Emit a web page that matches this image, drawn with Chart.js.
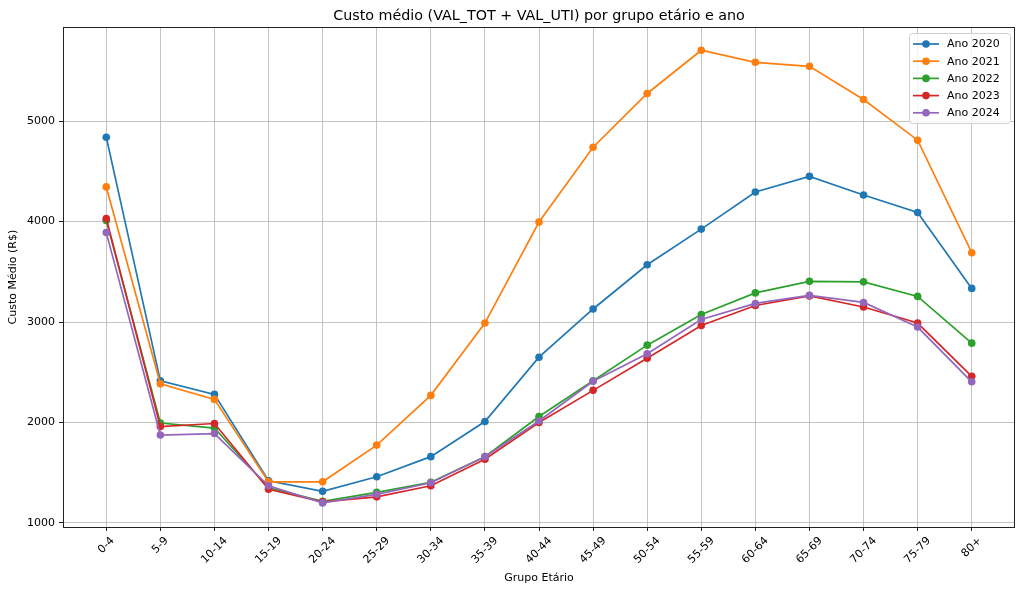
<!DOCTYPE html>
<html>
<head>
<meta charset="utf-8">
<script src="https://cdn.jsdelivr.net/npm/chart.js@4"></script>
<style>
  html, body { margin: 0; padding: 0; background: #fff; }
  #wrap { width: 1024px; height: 593px; position: relative; }
</style>
</head>
<body>
<div id="wrap"><canvas id="myLineChart"></canvas></div>
<script>
// categories and values
const faixas = ['0-4', '5-9', '10-14', '15-19', '20-24', '25-29', '30-34', '35-39', '40-44',
	'45-49', '50-54', '55-59', '60-64', '65-69', '70-74', '75-79', '80+'];

const ano2020 = [4840, 2415, 2280, 1420, 1315, 1460, 1660, 2010, 2650, 3130, 3570, 3925, 4295, 4450, 4265, 4090, 3335];
const ano2021 = [4345, 2385, 2230, 1410, 1410, 1775, 2270, 2990, 3995, 4740, 5275, 5705, 5585, 5545, 5215, 4810, 3690];
const ano2022 = [4010, 1995, 1945, 1350, 1215, 1305, 1405, 1660, 2060, 2415, 2770, 3075, 3290, 3405, 3400, 3255, 2790];
const ano2023 = [4030, 1960, 1990, 1335, 1210, 1260, 1370, 1635, 2000, 2320, 2640, 2965, 3165, 3260, 3150, 2990, 2460];
const ano2024 = [3890, 1875, 1890, 1370, 1200, 1285, 1400, 1660, 2015, 2410, 2685, 3025, 3185, 3265, 3195, 2950, 2405];

const yTicks = [1000, 2000, 3000, 4000, 5000];

const FONT = 'DejaVu Sans';

//turn a value list into points on the linear x axis
function toPoints(vals) {
	return vals.map((v, i) => ({ x: i, y: v }));
}

function serie(label, vals, color, order) {
	return {
		label: label,
		data: toPoints(vals),
		borderColor: color,
		backgroundColor: color,
		pointBackgroundColor: color,
		pointBorderWidth: 0,
		pointRadius: 3.8,
		borderWidth: 1.7,
		tension: 0,
		fill: false,
		order: order
	};
}

//legend drawn inside the plot, top right, matplotlib style
const innerLegend = {
	id: 'innerLegend',
	afterDraw(chart) {
		const ctx = chart.ctx;
		const sets = chart.data.datasets;
		const x0 = 909, y0 = 33, w = 101, h = 90;
		ctx.save();
		ctx.fillStyle = 'rgba(255,255,255,0.8)';
		ctx.strokeStyle = '#d0d0d0';
		ctx.lineWidth = 1;
		ctx.beginPath();
		ctx.roundRect(x0 + 0.5, y0 + 0.5, w, h, 3);
		ctx.fill();
		ctx.stroke();
		ctx.font = '11px "' + FONT + '"';
		ctx.textBaseline = 'middle';
		ctx.textAlign = 'left';
		sets.forEach((ds, i) => {
			const y = 44 + i * 17.2;
			ctx.strokeStyle = ds.borderColor;
			ctx.lineWidth = 1.7;
			ctx.beginPath();
			ctx.moveTo(913, y);
			ctx.lineTo(939, y);
			ctx.stroke();
			ctx.fillStyle = ds.borderColor;
			ctx.beginPath();
			ctx.arc(926, y, 3.8, 0, Math.PI * 2);
			ctx.fill();
			ctx.fillStyle = '#000';
			ctx.fillText(ds.label, 947, y + 0.5);
		});
		ctx.restore();
	}
};

//frame around the plot + x tick labels rotated 45 and centred under the tick
const frameAndLabels = {
	id: 'frameAndLabels',
	afterDraw(chart) {
		const ctx = chart.ctx;
		const a = chart.chartArea;
		const xs = chart.scales.x;
		ctx.save();
		ctx.strokeStyle = '#222';
		ctx.lineWidth = 1;
		ctx.strokeRect(Math.round(a.left) + 0.5, Math.round(a.top) + 0.5,
			Math.round(a.right - a.left) - 1, Math.round(a.bottom - a.top));
		ctx.font = '11px "' + FONT + '"';
		ctx.fillStyle = '#000';
		ctx.textAlign = 'center';
		ctx.textBaseline = 'middle';
		faixas.forEach((lab, i) => {
			const x = xs.getPixelForValue(i);
			const tw = ctx.measureText(lab).width;
			const side = (tw + 13) * Math.SQRT1_2;
			const cy = a.bottom + 7.5 + side / 2;
			ctx.save();
			ctx.translate(x, cy);
			ctx.rotate(-Math.PI / 4);
			ctx.fillText(lab, 0, 0);
			ctx.restore();
		});
		ctx.restore();
	}
};

const ctx = document.getElementById('myLineChart').getContext('2d');

new Chart(ctx, {
	type: 'line',
	data: {
		datasets: [
			serie('Ano 2020', ano2020, '#1f77b4', 4),
			serie('Ano 2021', ano2021, '#ff7f0e', 3),
			serie('Ano 2022', ano2022, '#2ca02c', 2),
			serie('Ano 2023', ano2023, '#d62728', 1),
			serie('Ano 2024', ano2024, '#9467bd', 0)
		]
	},
	options: {
		responsive: true,
		maintainAspectRatio: false,
		animation: false,
		layout: { padding: { right: 9, left: 0, bottom: 0, top: 0 } },
		plugins: {
			legend: { display: false },
			tooltip: { enabled: false },
			title: {
				display: true,
				fullSize: false,
				text: 'Custo médio (VAL_TOT + VAL_UTI) por grupo etário e ano',
				color: '#000',
				font: { family: FONT, size: 14.3, weight: 'normal' },
				padding: { top: 8, bottom: 2 }
			}
		},
		scales: {
			x: {
				type: 'linear',
				min: -0.8,
				max: 16.8,
				afterBuildTicks: (axis) => { axis.ticks = faixas.map((f, i) => ({ value: i })); },
				afterFit: (axis) => { axis.height = 66; },
				ticks: { display: false },
				grid: { color: 'rgba(176,176,176,0.75)', lineWidth: 1, tickColor: '#222', tickLength: 4 },
				border: { display: false },
				title: {
					display: true,
					text: 'Grupo Etário',
					color: '#000',
					font: { family: FONT, size: 11 },
					padding: { top: 0, bottom: 8 }
				}
			},
			y: {
				type: 'linear',
				min: 960,
				max: 5935,
				afterBuildTicks: (axis) => { axis.ticks = yTicks.map(v => ({ value: v })); },
				afterFit: (axis) => { axis.width = 63; },
				ticks: {
					color: '#000',
					font: { family: FONT, size: 11 },
					padding: 4,
					callback: (v) => String(v)
				},
				grid: { color: 'rgba(176,176,176,0.75)', lineWidth: 1, tickColor: '#222', tickLength: 4 },
				border: { display: false },
				title: {
					display: true,
					text: 'Custo Médio (R$)',
					color: '#000',
					font: { family: FONT, size: 11 },
					padding: { top: 7, bottom: 0 }
				}
			}
		}
	},
	plugins: [frameAndLabels, innerLegend]
});
</script>
</body>
</html>
